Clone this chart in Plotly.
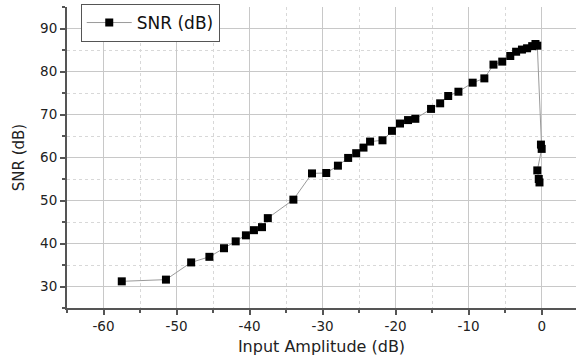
import plotly.graph_objects as go

input_amp_db = [-57.5, -51.45, -48.0, -45.5, -43.5, -41.9, -40.5, -39.4, -38.3, -37.5,
                -34.0, -31.45, -29.5, -27.9, -26.5, -25.4, -24.4, -23.5, -21.8, -20.5,
                -19.4, -18.3, -17.3, -15.15, -13.9, -12.8, -11.4, -9.45, -7.85, -6.6,
                -5.4, -4.3, -3.5, -2.7, -2.0, -1.3, -0.85, -0.6, -0.1, 0.0,
                -0.6, -0.4, -0.3]
snr_db = [31.2, 31.6, 35.6, 36.9, 38.9, 40.5, 41.9, 43.1, 43.8, 45.9,
          50.2, 56.3, 56.4, 58.1, 59.9, 61.0, 62.3, 63.7, 64.0, 66.2,
          67.9, 68.7, 69.0, 71.3, 72.6, 74.3, 75.3, 77.4, 78.4, 81.6,
          82.3, 83.6, 84.6, 85.1, 85.4, 85.9, 86.4, 86.0, 63.0, 62.0,
          57.0, 55.0, 54.2]

x_ticks = [-60, -50, -40, -30, -20, -10, 0]
x_tick_labels = ["-60", "-50", "-40", "-30", "-20", "-10", "0"]
y_ticks = [30, 40, 50, 60, 70, 80, 90]
y_tick_labels = ["30", "40", "50", "60", "70", "80", "90"]

FONT = "DejaVu Sans, Arial"

fig = go.Figure()
fig.add_trace(go.Scatter(
    x=input_amp_db, y=snr_db, mode="lines+markers", name="SNR (dB)",
    line=dict(color="#9a9a9a", width=1),
    marker=dict(symbol="square", size=8, color="black"),
))

axis_common = dict(
    showline=True, linecolor="#555555", linewidth=2, mirror=False,
    ticks="outside", ticklen=5, tickcolor="#555555", tickwidth=1.5,
    showgrid=True, gridcolor="#c8c8c8", gridwidth=1,
    zeroline=False,
    tickfont=dict(family=FONT, size=13.5, color="#222222"),
    minor=dict(ticks="outside", ticklen=3, tickcolor="#555555", showgrid=True,
               gridcolor="#d8d8d8", griddash="dot", gridwidth=1),
)

fig.update_layout(
    width=576, height=363,
    margin=dict(l=67, r=0, t=7, b=55),
    paper_bgcolor="white", plot_bgcolor="white",
    font=dict(family=FONT, size=13.5, color="#222222"),
    showlegend=True,
    legend=dict(x=0.027, y=1.01, xanchor="left", yanchor="top",
                bordercolor="#555555", borderwidth=1, bgcolor="white",
                font=dict(family=FONT, size=17, color="#111111"),
                itemwidth=45, tracegroupgap=0),
    xaxis=dict(range=[-65, 4.7], tickvals=x_ticks, ticktext=x_tick_labels,
               title=dict(text="Input Amplitude (dB)", font=dict(family=FONT, size=16), standoff=8),
               **axis_common),
    yaxis=dict(range=[25, 95], tickvals=y_ticks, ticktext=y_tick_labels,
               title=dict(text="SNR (dB)", font=dict(family=FONT, size=15), standoff=12),
               **axis_common),
)
fig.update_xaxes(minor_tickvals=[-65, -55, -45, -35, -25, -15, -5])
fig.update_yaxes(minor_tickvals=[25, 35, 45, 55, 65, 75, 85, 95])

fig.write_html("out.html")
